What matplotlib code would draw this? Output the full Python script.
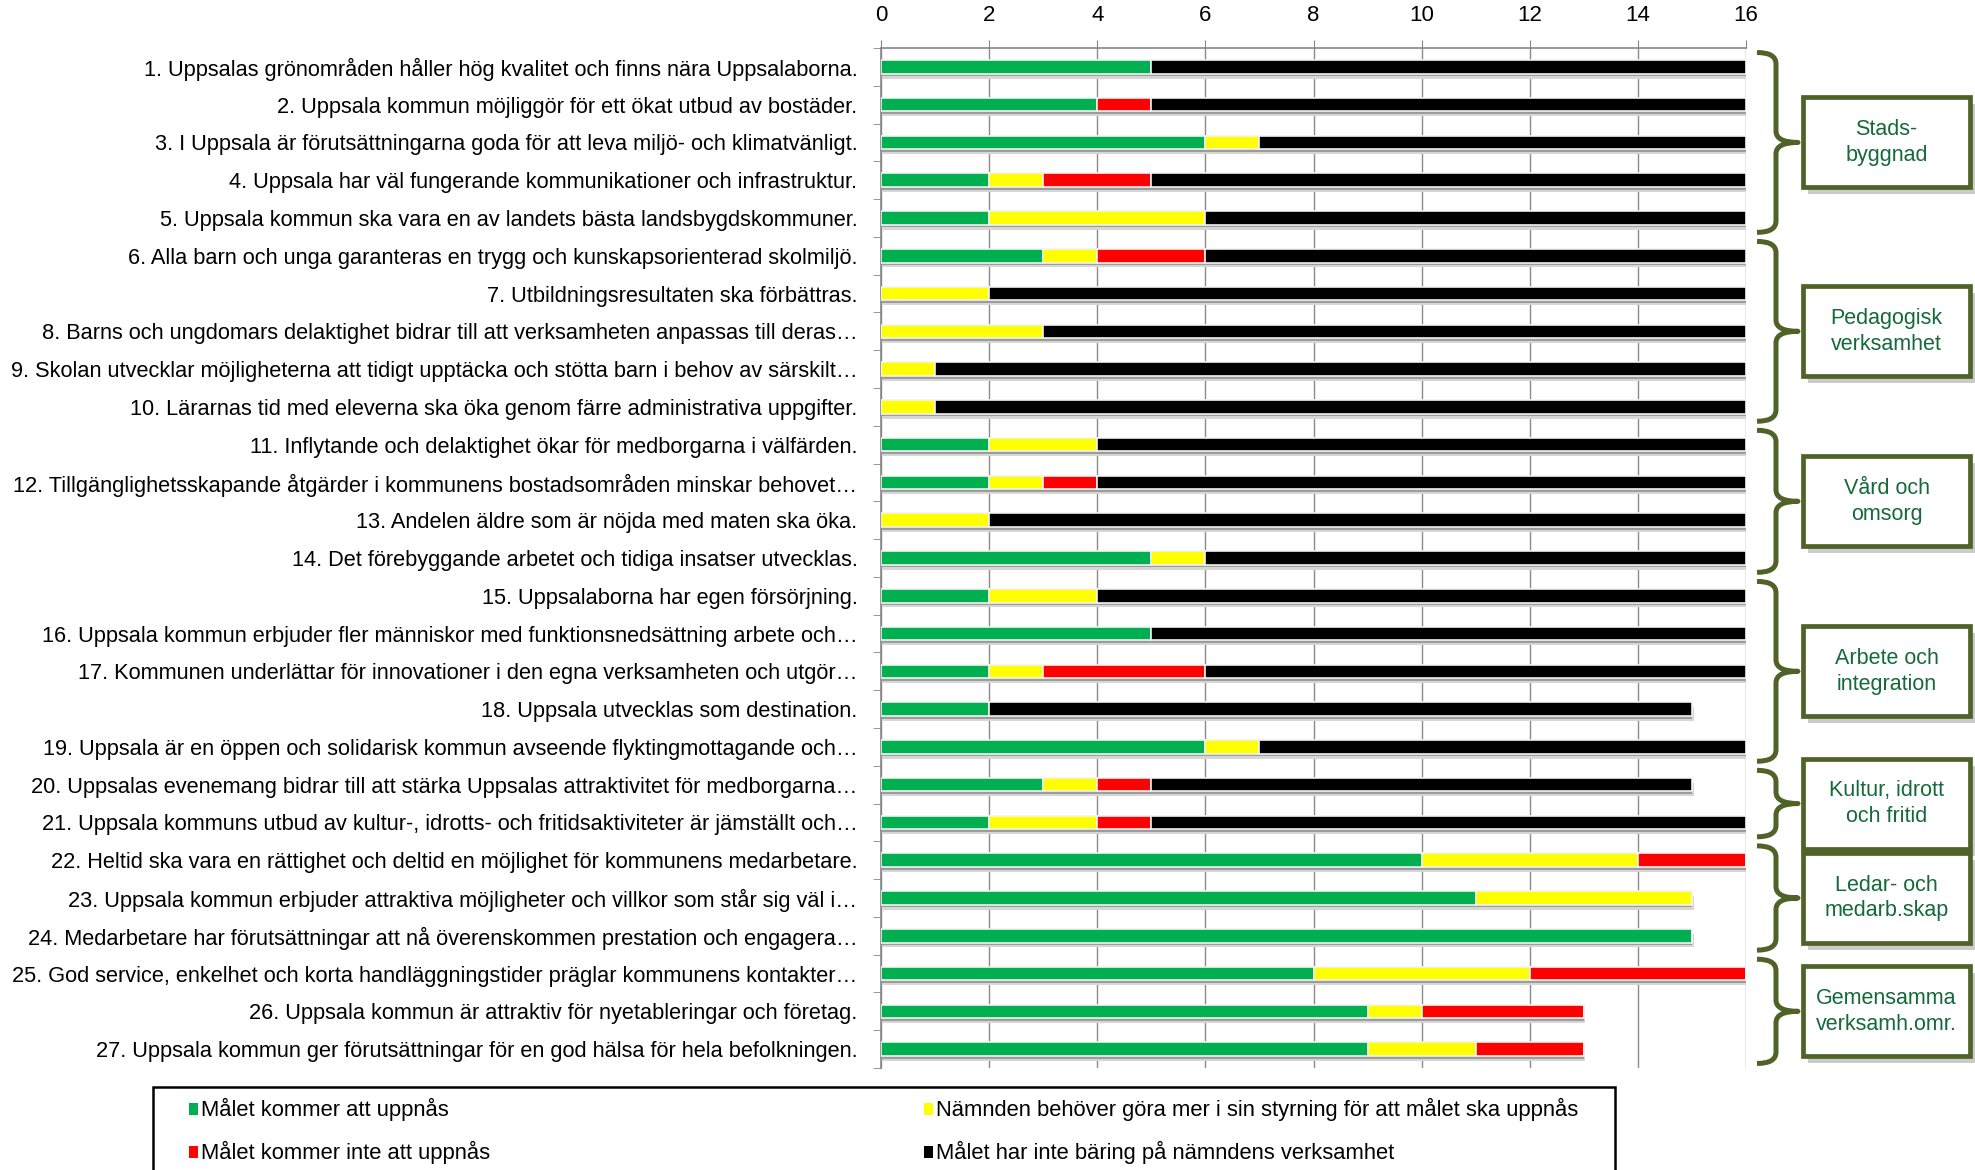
import numpy as np
import matplotlib
matplotlib.use("Agg")
import matplotlib.pyplot as plt
from matplotlib.patches import Rectangle
from matplotlib.path import Path
from matplotlib.patches import PathPatch
import matplotlib.transforms as mtransforms

plt.rcParams['font.family'] = ['Liberation Sans', 'DejaVu Sans']

labels = [
    "1. Uppsalas grönområden håller hög kvalitet och finns nära Uppsalaborna.",
    "2. Uppsala kommun möjliggör för ett ökat utbud av bostäder.",
    "3. I Uppsala är förutsättningarna goda för att leva miljö- och klimatvänligt.",
    "4. Uppsala har väl fungerande kommunikationer och infrastruktur.",
    "5. Uppsala kommun ska vara en av landets bästa landsbygdskommuner.",
    "6. Alla barn och unga garanteras en trygg och kunskapsorienterad skolmiljö.",
    "7. Utbildningsresultaten ska förbättras.",
    "8. Barns och ungdomars delaktighet bidrar till att verksamheten anpassas till deras…",
    "9. Skolan utvecklar möjligheterna att tidigt upptäcka och stötta barn i behov av särskilt…",
    "10. Lärarnas tid med eleverna ska öka genom färre administrativa uppgifter.",
    "11. Inflytande och delaktighet ökar för medborgarna i välfärden.",
    "12. Tillgänglighetsskapande åtgärder i kommunens bostadsområden minskar behovet…",
    "13. Andelen äldre som är nöjda med maten ska öka.",
    "14. Det förebyggande arbetet och tidiga insatser utvecklas.",
    "15. Uppsalaborna har egen försörjning.",
    "16. Uppsala kommun erbjuder fler människor med funktionsnedsättning arbete och…",
    "17. Kommunen underlättar för innovationer i den egna verksamheten och utgör…",
    "18. Uppsala utvecklas som destination.",
    "19. Uppsala är en öppen och solidarisk kommun avseende flyktingmottagande och…",
    "20. Uppsalas evenemang bidrar till att stärka Uppsalas attraktivitet för medborgarna…",
    "21. Uppsala kommuns utbud av kultur-, idrotts- och fritidsaktiviteter är jämställt och…",
    "22. Heltid ska vara en rättighet och deltid en möjlighet för kommunens medarbetare.",
    "23. Uppsala kommun erbjuder attraktiva möjligheter och villkor som står sig väl i…",
    "24. Medarbetare har förutsättningar att nå överenskommen prestation och engagera…",
    "25. God service, enkelhet och korta handläggningstider präglar kommunens kontakter…",
    "26. Uppsala kommun är attraktiv för nyetableringar och företag.",
    "27. Uppsala kommun ger förutsättningar för en god hälsa för hela befolkningen.",
]

green  = [5, 4, 6, 2, 2, 3, 0, 0, 0, 0, 2, 2, 0, 5, 2, 5, 2, 2, 6, 3, 2, 10, 11, 15, 8, 9, 9]
yellow = [0, 0, 1, 1, 4, 1, 2, 3, 1, 1, 2, 1, 2, 1, 2, 0, 1, 0, 1, 1, 2, 4, 4, 0, 4, 1, 2]
red    = [0, 1, 0, 2, 0, 2, 0, 0, 0, 0, 0, 1, 0, 0, 0, 0, 3, 0, 0, 1, 1, 2, 0, 0, 4, 3, 2]
black  = [11, 11, 9, 11, 10, 10, 14, 13, 15, 15, 12, 12, 14, 10, 12, 11, 10, 13, 9, 10, 11, 0, 0, 0, 0, 0, 0]

series_names = ["Målet kommer att uppnås",
                "Nämnden behöver göra mer i sin styrning för att målet ska uppnås",
                "Målet kommer inte att uppnås",
                "Målet har inte bäring på nämndens verksamhet"]
series_colors = ["#00B050", "#FFFF00", "#FF0000", "#000000"]

groups = [("Stads-\nbyggnad", 0, 4),
          ("Pedagogisk\nverksamhet", 5, 9),
          ("Vård och\nomsorg", 10, 13),
          ("Arbete och\nintegration", 14, 18),
          ("Kultur, idrott\noch fritid", 19, 20),
          ("Ledar- och\nmedarb.skap", 21, 23),
          ("Gemensamma\nverksamh.omr.", 24, 26)]

xticks = [0, 2, 4, 6, 8, 10, 12, 14, 16]

W, H = 1975, 1170
fig = plt.figure(figsize=(W / 100, H / 100), dpi=100)
ax_l, ax_r, ax_t, ax_b = 881, 1746, 48, 1068
ax = fig.add_axes([ax_l / W, 1 - ax_b / H, (ax_r - ax_l) / W, (ax_b - ax_t) / H])

n = len(labels)
y = np.arange(n)
data = np.array([green, yellow, red, black], dtype=float)
totals = data.sum(axis=0)
bh = 0.36

# shadows
ax.barh(y + 0.07, totals, height=bh, color="#9c9c9c", zorder=2, linewidth=0)
ax.barh(y + 0.13, totals + 0.03, height=bh, color="#d6d6d6", zorder=1.9, linewidth=0)

left = np.zeros(n)
for vals, col in zip(data, series_colors):
    ax.barh(y, vals, left=left, height=bh, color=col, edgecolor="#f2f2f2",
            linewidth=1.2, zorder=3)
    left += vals

ax.set_xlim(0, 16)
ax.set_ylim(n - 0.5, -0.5)
ax.xaxis.tick_top()
ax.set_xticks(xticks)
ax.set_xticklabels([str(t) for t in xticks], fontsize=16)
ax.tick_params(axis='x', direction='out', length=6, color="#868686", pad=10)
ax.grid(axis='x', color="#8a8a8a", linewidth=1.0, zorder=0)
ax.set_axisbelow(True)

ax.set_yticks(y)
ax.set_yticklabels(labels, fontsize=15.7)
ax.set_yticks(np.arange(-0.5, n, 1), minor=True)
ax.tick_params(axis='y', which='major', length=0, pad=17)
ax.tick_params(axis='y', which='minor', length=6, color="#868686", direction='out')

for s in ['right', 'bottom']:
    ax.spines[s].set_visible(False)
for s in ['top', 'left']:
    ax.spines[s].set_color("#868686")
    ax.spines[s].set_linewidth(1.2)

# braces and boxes
trans = mtransforms.blended_transform_factory(fig.transFigure, ax.transData)
row_px = (ax_b - ax_t) / n
brace_col = "#4F6228"
xl, xv, xt = 1757 / W, 1776 / W, 1798 / W
r = 0.3
gap = 0.12
for name, a, b in groups:
    yt = a - 0.5 + gap
    yb = b + 0.5 - gap
    ym = (a + b) / 2.0
    verts = [(xl, yt), (xv, yt), (xv, yt + r),
             (xv, ym - r), (xv, ym), (xt, ym),
             (xv, ym), (xv, ym + r),
             (xv, yb - r), (xv, yb), (xl, yb)]
    codes = [Path.MOVETO, Path.CURVE3, Path.CURVE3,
             Path.LINETO, Path.CURVE3, Path.CURVE3,
             Path.CURVE3, Path.CURVE3,
             Path.LINETO, Path.CURVE3, Path.CURVE3]
    pp = PathPatch(Path(verts, codes), facecolor='none', edgecolor=brace_col,
                   linewidth=3.6, transform=trans, clip_on=False, capstyle='butt',
                   joinstyle='round')
    ax.add_artist(pp)
    bhh = 45 / row_px
    bx0, bx1 = 1803 / W, 1970 / W
    sh = Rectangle((bx0 + 5 / W, ym - bhh + 7 / row_px), bx1 - bx0, 2 * bhh,
                   facecolor="#b5b5b5", edgecolor='none', transform=trans,
                   clip_on=False, alpha=0.7)
    ax.add_artist(sh)
    box = Rectangle((bx0, ym - bhh), bx1 - bx0, 2 * bhh, facecolor='white',
                    edgecolor=brace_col, linewidth=3.4, transform=trans, clip_on=False)
    ax.add_artist(box)
    ax.text((bx0 + bx1) / 2, ym, name, transform=trans, ha='center', va='center',
            fontsize=15.5, color="#15693A", linespacing=1.3, clip_on=False)

# legend box
def fx(px):
    return px / W

def fy(py):
    return 1 - py / H

frame = Rectangle((fx(153), fy(1200)), fx(1615) - fx(153), (1200 - 1087) / H,
                  facecolor='white', edgecolor='black', linewidth=1.8,
                  transform=fig.transFigure, clip_on=False)
fig.patches.append(frame)
leg_pos = [(189, 1109), (924, 1109), (189, 1152), (924, 1152)]
for (px, py), name, col in zip(leg_pos, series_names, series_colors):
    fig.patches.append(Rectangle((fx(px), fy(py + 6)), 9 / W, 12 / H,
                                 facecolor=col, edgecolor='none',
                                 transform=fig.transFigure))
    fig.text(fx(px + 12), fy(py), name, fontsize=15.8, ha='left', va='center')

fig.savefig("out.png", dpi=100)
